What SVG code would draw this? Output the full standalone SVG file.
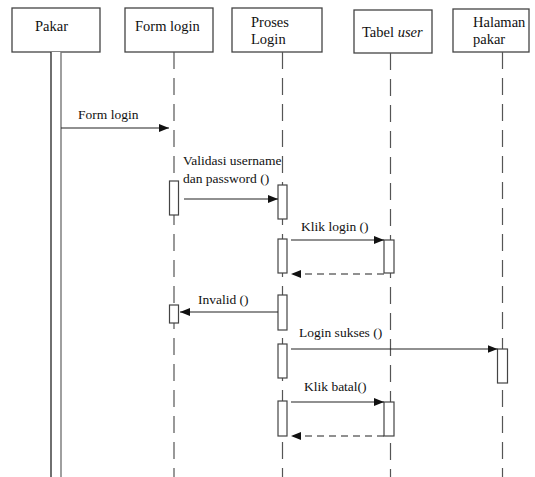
<svg xmlns="http://www.w3.org/2000/svg" width="535" height="477" viewBox="0 0 535 477">
<style>
  .box { fill: #fff; stroke: #444; stroke-width: 1.3; }
  .lbl { font-size: 14.5px; fill: #111; }
  .msg { font-size: 13.5px; fill: #111; }
  .life { stroke: #555; stroke-width: 1.2; stroke-dasharray: 17 9; fill: none; }
  .act { fill: #fff; stroke: #444; stroke-width: 1.2; }
  .arr { stroke: #222; stroke-width: 1.2; fill: none; marker-end: url(#ah); }
  .ret { stroke: #222; stroke-width: 1.2; fill: none; stroke-dasharray: 7 5; marker-end: url(#ah); }
</style>
<defs>
  <marker id="ah" viewBox="0 0 10 8" refX="10" refY="4" markerWidth="10" markerHeight="8" markerUnits="userSpaceOnUse" orient="auto">
    <path d="M0,0 L10,4 L0,8 Z" fill="#111"/>
  </marker>
</defs>
<rect width="535" height="477" fill="#fff"/>
<g font-family="Liberation Serif, Times New Roman, DejaVu Serif, serif">
<g id="pakar">
  <rect class="box" x="12" y="8" width="88" height="44"/>
  <text class="lbl" x="35" y="31">Pakar</text>
  <rect x="51" y="52" width="10" height="430" fill="#fff" stroke="none"/>
  <line x1="51" y1="52" x2="51" y2="477" stroke="#333" stroke-width="1.4"/>
  <line x1="61" y1="52" x2="61" y2="477" stroke="#777" stroke-width="1.4"/>
</g>

<g id="form-login">
  <rect class="box" x="125" y="8" width="88" height="44"/>
  <text class="lbl" x="135" y="31">Form login</text>
  <line class="life" x1="174" y1="52" x2="174" y2="477"/>
  <rect class="act" x="169.5" y="181" width="9" height="34"/>
  <rect class="act" x="169.5" y="305" width="9" height="18"/>
</g>

<g id="proses-login">
  <rect class="box" x="232" y="8" width="90" height="44"/>
  <text class="lbl" x="251" y="27">Proses</text>
  <text class="lbl" x="251" y="44">Login</text>
  <line class="life" x1="282.5" y1="52" x2="282.5" y2="477"/>
  <rect class="act" x="278" y="185" width="9" height="34"/>
  <rect class="act" x="278" y="239" width="9" height="34"/>
  <rect class="act" x="278" y="295" width="9" height="35"/>
  <rect class="act" x="278" y="344" width="9" height="34"/>
  <rect class="act" x="278" y="401" width="9" height="35"/>
</g>

<g id="tabel-user">
  <rect class="box" x="354" y="10" width="78" height="43"/>
  <text class="lbl" x="362" y="37">Tabel <tspan font-style="italic">user</tspan></text>
  <line class="life" x1="390.5" y1="53" x2="390.5" y2="477"/>
  <rect class="act" x="384" y="240" width="10" height="33"/>
  <rect class="act" x="384" y="402" width="10" height="34"/>
</g>

<g id="halaman-pakar">
  <rect class="box" x="453" y="9" width="76" height="43"/>
  <text class="lbl" x="473" y="27">Halaman</text>
  <text class="lbl" x="473" y="44">pakar</text>
  <line class="life" x1="502.5" y1="52" x2="502.5" y2="477"/>
  <rect class="act" x="497.5" y="349" width="10" height="34"/>
</g>

<g id="connectors">
  <line class="arr" x1="61" y1="128" x2="169" y2="128"/>
  <text class="msg" x="78" y="119" font-size="14">Form login</text>

  <line class="arr" x1="184" y1="199" x2="278" y2="199"/>
  <text class="msg" x="183" y="165" font-size="13">Validasi username</text>
  <text class="msg" x="183" y="183" font-size="13">dan password ()</text>

  <line class="arr" x1="291" y1="240" x2="384" y2="240"/>
  <text class="msg" x="301" y="231">Klik login ()</text>
  <line class="ret" x1="384" y1="274" x2="291" y2="274"/>

  <line class="arr" x1="278" y1="312" x2="180" y2="312"/>
  <text class="msg" x="198" y="304">Invalid ()</text>

  <line class="arr" x1="291" y1="349" x2="497.5" y2="349"/>
  <text class="msg" x="299" y="337">Login sukses ()</text>

  <line class="arr" x1="291" y1="402" x2="384" y2="402"/>
  <text class="msg" x="304" y="391">Klik batal()</text>
  <line class="ret" x1="384" y1="436" x2="291" y2="436"/>
</g>
</g>
</svg>
